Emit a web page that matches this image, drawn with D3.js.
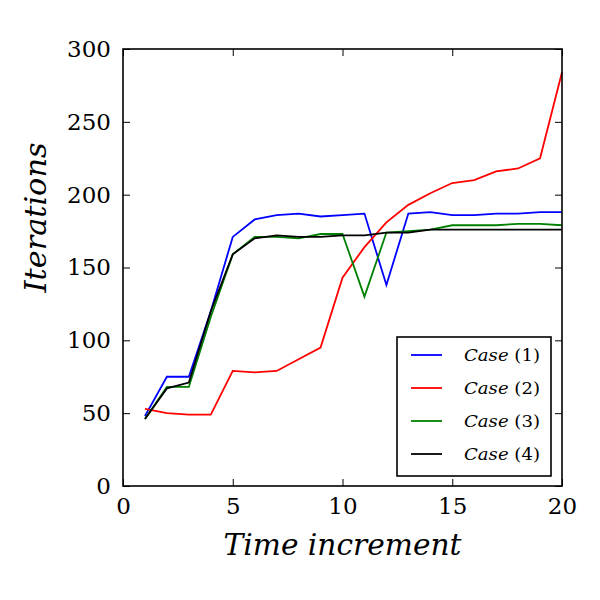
<!DOCTYPE html>
<html>
<head>
<meta charset="utf-8">
<script src="https://cdn.jsdelivr.net/npm/d3@7"></script>
<style>
  body { margin: 0; background: #fff; }
</style>
</head>
<body>
<div id="chart"></div>
<script>
// data
var steps = d3.range(1, 21);
var case1 = [48, 75, 75, 120, 171, 183, 186, 187, 185, 186, 187, 138, 187, 188, 186, 186, 187, 187, 188, 188];
var case2 = [53, 50, 49, 49, 79, 78, 79, 87, 95, 143, 164, 181, 193, 201, 208, 210, 216, 218, 225, 284];
var case3 = [46, 68, 68, 116, 159, 171, 171, 170, 173, 173, 130, 174, 175, 176, 179, 179, 179, 180, 180, 179];
var case4 = [46, 67, 71, 120, 159, 170, 172, 171, 171, 172, 172, 174, 174, 176, 176, 176, 176, 176, 176, 176];
var seriesNames = ["(1)", "(2)", "(3)", "(4)"];
var seriesColors = ["#0000ff", "#ff0000", "#008000", "#000000"];
var xTicks = [0, 5, 10, 15, 20];
var yTicks = [0, 50, 100, 150, 200, 250, 300];

var series = [case1, case2, case3, case4];

// set the dimensions and margins of the graph
var margin = {top: 49, right: 38, bottom: 114, left: 123},
    width = 600 - margin.left - margin.right,
    height = 600 - margin.top - margin.bottom;

var svg = d3.select("#chart")
  .append("svg")
    .attr("width", 600)
    .attr("height", 600)
  .append("g")
    .attr("transform", "translate(" + margin.left + "," + margin.top + ")");

var x = d3.scaleLinear().domain([0, 20]).range([0, width]);
var y = d3.scaleLinear().domain([0, 300]).range([height, 0]);

var serif = "DejaVu Serif, serif";

// axes with inward ticks on all four sides
svg.append("g")
    .attr("transform", "translate(0," + height + ")")
    .call(d3.axisBottom(x).tickValues(xTicks).tickSize(-7).tickPadding(12))
    .call(function (g) { g.select(".domain").remove(); });
svg.append("g")
    .call(d3.axisTop(x).tickValues(xTicks).tickSize(-7).tickFormat(""))
    .call(function (g) { g.select(".domain").remove(); });
svg.append("g")
    .call(d3.axisLeft(y).tickValues(yTicks).tickSize(-7).tickPadding(12))
    .call(function (g) { g.select(".domain").remove(); });
svg.append("g")
    .attr("transform", "translate(" + width + ",0)")
    .call(d3.axisRight(y).tickValues(yTicks).tickSize(-7).tickFormat(""))
    .call(function (g) { g.select(".domain").remove(); });

svg.selectAll(".tick line").attr("stroke", "#000").attr("stroke-width", 1);
svg.selectAll(".tick text")
    .style("font-family", serif)
    .style("font-size", "23px")
    .attr("fill", "#000");

// lines
var line = d3.line()
    .x(function (d, i) { return x(steps[i]); })
    .y(function (d) { return y(d); });

svg.append("g")
  .selectAll("path")
  .data(series)
  .enter()
  .append("path")
    .attr("d", line)
    .attr("fill", "none")
    .attr("stroke", function (d, i) { return seriesColors[i]; })
    .attr("stroke-width", 1.8);

// frame
svg.append("rect")
    .attr("width", width)
    .attr("height", height)
    .attr("fill", "none")
    .attr("stroke", "#000")
    .attr("stroke-width", 1.6);

// axis labels
svg.append("text")
    .attr("x", width / 2)
    .attr("y", height + 69)
    .attr("text-anchor", "middle")
    .attr("textLength", 238)
    .attr("lengthAdjust", "spacingAndGlyphs")
    .style("font-family", serif)
    .style("font-style", "italic")
    .style("font-size", "29px")
    .text("Time increment");

svg.append("text")
    .attr("transform", "rotate(-90)")
    .attr("x", -height / 2 + 50)
    .attr("y", -77)
    .attr("text-anchor", "middle")
    .attr("textLength", 150)
    .attr("lengthAdjust", "spacingAndGlyphs")
    .style("font-family", serif)
    .style("font-style", "italic")
    .style("font-size", "29px")
    .text("Iterations");

// legend
var legend = svg.append("g")
    .attr("transform", "translate(" + (397 - margin.left) + "," + (337 - margin.top) + ")");
legend.append("rect")
    .attr("width", 154)
    .attr("height", 139)
    .attr("fill", "#fff")
    .attr("stroke", "#000")
    .attr("stroke-width", 1.6);

var rows = legend.selectAll(".row")
  .data(seriesNames)
  .enter()
  .append("g")
    .attr("class", "row")
    .attr("transform", function (d, i) { return "translate(0," + (18 + i * 33) + ")"; });
rows.append("line")
    .attr("x1", 14).attr("x2", 45)
    .attr("stroke", function (d, i) { return seriesColors[i]; })
    .attr("stroke-width", 1.8);
var lt = rows.append("text")
    .attr("x", 67)
    .attr("y", 6)
    .attr("textLength", 76)
    .attr("lengthAdjust", "spacingAndGlyphs")
    .style("font-family", serif)
    .style("font-size", "17px");
lt.append("tspan").style("font-style", "italic").text("Case ");
lt.append("tspan").text(function (d) { return d; });
</script>
</body>
</html>
